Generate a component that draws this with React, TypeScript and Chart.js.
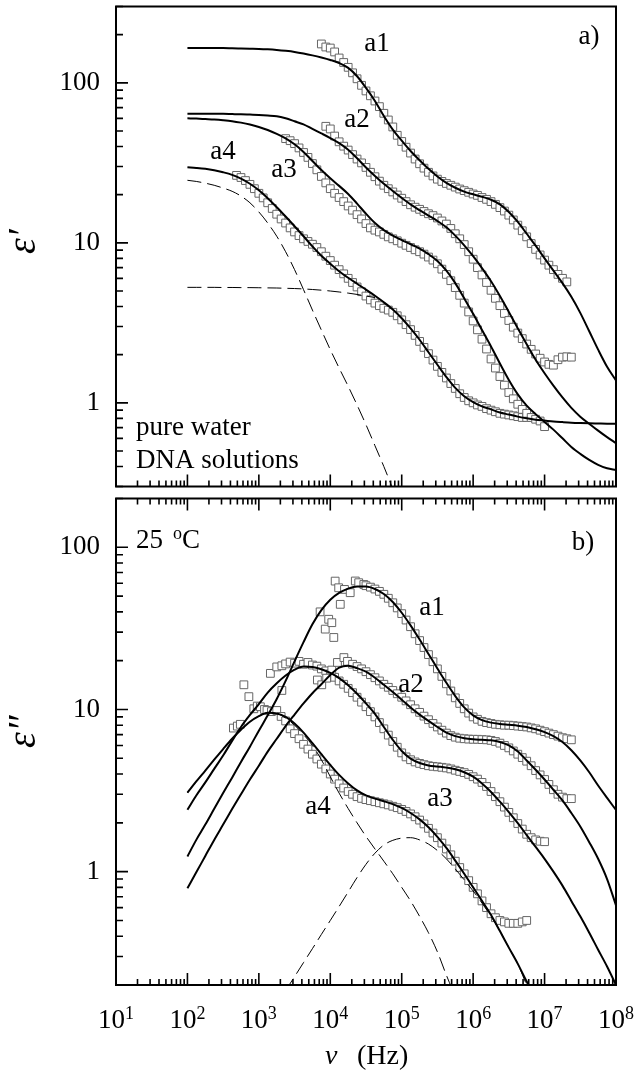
import { useEffect, useRef } from "react"
import { Chart, registerables } from "chart.js"

Chart.register(...registerables)

const SERIF = '"Liberation Serif", "DejaVu Serif", serif'

// measurement frequencies (Hz), 16 per decade, index 0 = 100 Hz
const freqGrid = [
  100, 115, 133, 154, 178, 205, 237, 274, 316, 365, 422, 487, 562, 649, 750, 866,
  1e3, 1.15e3, 1.33e3, 1.54e3, 1.78e3, 2.05e3, 2.37e3, 2.74e3, 3.16e3, 3.65e3, 4.22e3, 4.87e3, 5.62e3, 6.49e3, 7.5e3, 8.66e3,
  1e4, 1.15e4, 1.33e4, 1.54e4, 1.78e4, 2.05e4, 2.37e4, 2.74e4, 3.16e4, 3.65e4, 4.22e4, 4.87e4, 5.62e4, 6.49e4, 7.5e4, 8.66e4,
  1e5, 1.15e5, 1.33e5, 1.54e5, 1.78e5, 2.05e5, 2.37e5, 2.74e5, 3.16e5, 3.65e5, 4.22e5, 4.87e5, 5.62e5, 6.49e5, 7.5e5, 8.66e5,
  1e6, 1.15e6, 1.33e6, 1.54e6, 1.78e6, 2.05e6, 2.37e6, 2.74e6, 3.16e6, 3.65e6, 4.22e6, 4.87e6, 5.62e6, 6.49e6, 7.5e6, 8.66e6,
  1e7, 1.15e7, 1.33e7, 1.54e7, 1.78e7, 2.05e7, 2.37e7, 2.74e7, 3.16e7, 3.65e7, 4.22e7, 4.87e7, 5.62e7, 6.49e7, 7.5e7, 8.66e7,
  1e8,
]

// frequencies at which the fitted curves are read (Hz), 8 per decade
const fitGrid = [
  100, 133, 178, 237, 316, 422, 562, 750,
  1e3, 1.33e3, 1.78e3, 2.37e3, 3.16e3, 4.22e3, 5.62e3, 7.5e3,
  1e4, 1.33e4, 1.78e4, 2.37e4, 3.16e4, 4.22e4, 5.62e4, 7.5e4,
  1e5, 1.33e5, 1.78e5, 2.37e5, 3.16e5, 4.22e5, 5.62e5, 7.5e5,
  1e6, 1.33e6, 1.78e6, 2.37e6, 3.16e6, 4.22e6, 5.62e6, 7.5e6,
  1e7, 1.33e7, 1.78e7, 2.37e7, 3.16e7, 4.22e7, 5.62e7, 7.5e7,
  1e8,
]

// ---- panel a) eps' : measured points (start index in freqGrid + values)
const realA1Start = 30
const realA1 = [175, 167.5, 165, 156, 143, 134, 125, 115.5, 106, 96.5, 89, 83, 77, 71, 64.5, 58.6, 53, 47, 43, 39.6, 36.4, 33.4, 31.2, 29.3, 27.6, 26.2, 25, 24.2, 23.5, 22.9, 22.3, 21.7, 21.2, 20.7, 20.2, 19.8, 19.2, 18.7, 18.1, 17.4, 16.6, 15.8, 14.9, 13.9, 12.9, 11.9, 10.9, 9.9, 9.1, 8.4, 7.8, 7.25, 6.8, 6.35, 6.0, 5.7]
const realA2Start = 31
const realA2 = [53.5, 51.5, 46.5, 42.8, 40.2, 38, 35.6, 33.4, 31.6, 29.6, 27.6, 25.9, 24.3, 22.9, 21.8, 20.8, 19.9, 19, 18.1, 17.3, 16.7, 16.2, 15.7, 15.2, 14.8, 14.3, 13.7, 13.1, 12.3, 11.4, 10.6, 9.75, 8.8, 7.9, 7.0, 6.3, 5.65, 5.05, 4.5, 4.05, 3.62, 3.27, 2.97, 2.73, 2.52, 2.33, 2.16, 2.02, 1.9, 1.8, 1.74, 1.72, 1.86, 1.93, 1.94, 1.93]
const realA3Start = 22
const realA3 = [44.8, 43.5, 41.7, 39.2, 36.7, 34.2, 31.3, 28.6, 26, 23.7, 21.8, 20.4, 19.2, 18.1, 17, 16, 15, 14.1, 13.2, 12.4, 12, 11.7, 11.3, 10.9, 10.6, 10.3, 9.95, 9.65, 9.35, 9.05, 8.8, 8.5, 8.15, 7.8, 7.4, 6.85, 6.35, 5.8, 5.25, 4.7, 4.2, 3.7, 3.25, 2.86, 2.5, 2.17, 1.88, 1.65, 1.46, 1.29, 1.16, 1.06, 0.98, 0.91, 0.86, 0.81, 0.79, 0.77, 0.71]
const realA4Start = 11
const realA4 = [26.4, 25.6, 24.5, 23.2, 21.8, 20.4, 19.1, 17.8, 16.4, 15.1, 14.1, 13.3, 12.4, 11.7, 11.1, 10.6, 10.2, 9.8, 9.35, 8.8, 8.25, 7.75, 7.25, 6.8, 6.4, 6.0, 5.65, 5.3, 4.95, 4.65, 4.4, 4.2, 4.05, 3.9, 3.8, 3.68, 3.5, 3.3, 3.08, 2.87, 2.64, 2.42, 2.22, 2.03, 1.85, 1.69, 1.55, 1.43, 1.32, 1.23, 1.14, 1.08, 1.03, 1.0, 0.97, 0.95, 0.92, 0.9, 0.88, 0.86, 0.85, 0.84, 0.83, 0.82, 0.81, 0.81]

// ---- panel a) eps' : fitted curves on fitGrid (start index + values)
const fitRealA1 = [165, 165, 165, 165, 165, 164.5, 164, 163.5, 163, 162, 160.5, 158.5, 156, 152.5, 148.5, 144, 139, 133, 124, 110, 93, 77, 62, 51, 43.5, 37.5, 32.8, 29, 26, 23.7, 22.1, 20.9, 20.1, 19.4, 18.6, 17.4, 15.6, 13.5, 11.4, 9.6, 8.0, 6.7, 5.6, 4.6, 3.65, 2.8, 2.15, 1.68, 1.38]
const fitRealA2 = [64, 64, 64, 64, 64, 63.8, 63.6, 63.3, 63, 62.5, 61.8, 60, 57.5, 55, 51.5, 48.3, 45.2, 42, 38.2, 33.8, 29.6, 26.2, 23.4, 21.1, 19.1, 17.4, 16, 14.8, 13.7, 12.5, 11.1, 9.65, 8.25, 6.95, 5.75, 4.65, 3.7, 2.92, 2.32, 1.86, 1.53, 1.28, 1.08, 0.93, 0.82, 0.74, 0.67, 0.61, 0.56]
const fitRealA3 = [60, 59.8, 59.4, 59, 58.4, 57.6, 56.4, 54.9, 53, 50.7, 48, 45, 41.3, 37, 32.5, 28.5, 25.3, 22.7, 20.2, 17.6, 15.2, 13.3, 12, 11.1, 10.4, 9.8, 9.2, 8.5, 7.7, 6.7, 5.6, 4.5, 3.6, 2.85, 2.25, 1.76, 1.39, 1.13, 0.96, 0.85, 0.76, 0.68, 0.6, 0.53, 0.48, 0.44, 0.41, 0.39, 0.38]
const fitRealA4 = [29.7, 29.4, 29, 28.4, 27.6, 26.6, 25.2, 23.4, 21.3, 19, 16.7, 14.6, 12.7, 11, 9.5, 8.3, 7.4, 6.65, 6.05, 5.55, 5.1, 4.67, 4.25, 3.83, 3.38, 2.92, 2.48, 2.07, 1.73, 1.45, 1.24, 1.1, 1.01, 0.95, 0.91, 0.87, 0.845, 0.82, 0.8, 0.785, 0.775, 0.765, 0.758, 0.752, 0.748, 0.745, 0.743, 0.741, 0.74]
// a4 components (dashed)
const compReal1 = [24.6, 24.2, 23.6, 22.9, 22, 21, 19.6, 17.8, 15.6, 13.3, 11, 8.8, 6.8, 5.1, 3.8, 2.85, 2.15, 1.65, 1.27, 0.97, 0.73, 0.54, 0.4, 0.29, 0.21]
const compReal2 = [5.27, 5.27, 5.27, 5.27, 5.26, 5.26, 5.25, 5.25, 5.24, 5.23, 5.22, 5.2, 5.18, 5.15, 5.11, 5.06, 5.0, 4.93, 4.85, 4.76, 4.65, 4.55]

// ---- panel b) eps'' : measured points (scattered start + grid part)
const lossA1EarlyF = [7.2e3, 8.5e3, 9.5e3, 1.05e4, 1.12e4, 1.17e4, 1.31e4, 1.38e4, 1.58e4, 1.9e4, 2.24e4, 2.5e4, 2.95e4]
const lossA1Early = [40.0, 31.3, 36.0, 34.3, 27.8, 61.9, 56.3, 44.5, 55, 52.5, 62, 60.5, 59]
const lossA1Start = 40
const lossA1 = [58, 56.8, 55.3, 53.5, 51.3, 48.5, 45.5, 42.3, 39, 35.6, 32.4, 29.3, 26.6, 24.1, 21.8, 19.7, 17.8, 16, 14.4, 13, 11.8, 10.9, 10.1, 9.5, 9.0, 8.7, 8.45, 8.3, 8.2, 8.1, 8.05, 8.0, 8.0, 7.95, 7.9, 7.85, 7.8, 7.7, 7.6, 7.45, 7.3, 7.15, 7.0, 6.85, 6.7, 6.6, 6.5]
const lossA2EarlyF = [2.1e3, 6.6e3, 7.6e3, 8.9e3, 1.05e4, 1.26e4, 1.55e4, 1.74e4]
const lossA2Early = [13.1, 15.2, 14.2, 15.6, 17.5, 19.5, 20.9, 19.8]
const lossA2Start = 37
const lossA2 = [19.0, 18.4, 17.8, 17.1, 16.4, 15.7, 15.0, 14.3, 13.7, 13.1, 12.5, 11.9, 11.3, 10.7, 10.1, 9.6, 9.1, 8.65, 8.2, 7.8, 7.45, 7.15, 6.9, 6.75, 6.65, 6.6, 6.57, 6.55, 6.55, 6.52, 6.5, 6.45, 6.35, 6.2, 6.0, 5.8, 5.55, 5.3, 5.05, 4.8, 4.5, 4.2, 3.95, 3.7, 3.45, 3.2, 3.0, 2.88, 2.82, 2.82]
const lossA3EarlyF = [1.45e3, 1.78e3, 2.1e3]
const lossA3Early = [16.7, 18.3, 18.6]
const lossA3Start = 22
const lossA3 = [19.1, 19.6, 19.3, 19.8, 19.0, 19.5, 18.8, 18.5, 17.8, 17.3, 16.6, 15.8, 15.0, 14.3, 13.5, 12.7, 11.9, 11.1, 10.4, 9.7, 9.0, 8.3, 7.6, 6.95, 6.35, 5.85, 5.4, 5.1, 4.9, 4.75, 4.65, 4.57, 4.5, 4.46, 4.43, 4.4, 4.36, 4.3, 4.22, 4.15, 4.08, 3.98, 3.85, 3.72, 3.55, 3.35, 3.12, 2.9, 2.7, 2.5, 2.32, 2.15, 1.98, 1.83, 1.7, 1.62, 1.57, 1.54, 1.53]
const lossA4EarlyF = [440, 500, 550, 617, 725, 850, 950, 1.05e3, 1.2e3, 1.3e3, 1.5e3, 1.78e3, 2.05e3]
const lossA4Early = [7.68, 7.9, 8.1, 14.2, 12.0, 10.1, 10.5, 10.4, 10.0, 9.86, 9.7, 9.86, 9.06]
const lossA4Start = 22
const lossA4 = [8.5, 7.6, 7.1, 6.6, 6.1, 5.7, 5.3, 4.95, 4.6, 4.3, 4.0, 3.72, 3.48, 3.28, 3.12, 3.0, 2.9, 2.83, 2.78, 2.74, 2.7, 2.66, 2.62, 2.58, 2.53, 2.48, 2.42, 2.35, 2.27, 2.18, 2.08, 1.97, 1.85, 1.73, 1.62, 1.5, 1.38, 1.27, 1.16, 1.06, 0.97, 0.88, 0.8, 0.73, 0.66, 0.6, 0.55, 0.52, 0.5, 0.49, 0.48, 0.48, 0.48, 0.49, 0.5]

// ---- panel b) eps'' : fitted curves on fitGrid
const fitLossA1 = [1.24, 1.57, 1.95, 2.44, 3.05, 3.8, 4.75, 5.9, 7.4, 9.2, 11.6, 15.0, 19.8, 26, 33.5, 41, 47.5, 52.3, 55.6, 57.3, 57.3, 55.3, 51.5, 46, 39.5, 33, 27, 22, 17.9, 14.6, 12.1, 10.3, 9.2, 8.6, 8.3, 8.15, 8.05, 7.95, 7.8, 7.55, 7.25, 6.85, 6.3, 5.6, 4.85, 4.1, 3.4, 2.85, 2.4]
const fitLossA2 = [0.79, 0.99, 1.25, 1.57, 1.95, 2.43, 3.0, 3.7, 4.5, 5.5, 6.6, 7.9, 9.3, 10.9, 12.6, 14.3, 16.3, 18.1, 18.6, 18.0, 17.1, 15.7, 14.2, 12.8, 11.5, 10.3, 9.3, 8.5, 7.8, 7.2, 6.85, 6.65, 6.55, 6.5, 6.45, 6.3, 6.0, 5.5, 4.85, 4.25, 3.7, 3.2, 2.75, 2.3, 1.9, 1.52, 1.2, 0.9, 0.62]
const fitLossA3 = [2.41, 2.95, 3.55, 4.3, 5.2, 6.4, 7.8, 9.25, 10.8, 12.7, 14.5, 16.2, 17.6, 18.4, 18.3, 17.7, 16.8, 15.6, 14.1, 12.5, 10.9, 9.4, 7.8, 6.5, 5.55, 4.98, 4.68, 4.52, 4.45, 4.38, 4.28, 4.1, 3.85, 3.5, 3.1, 2.7, 2.33, 1.99, 1.68, 1.42, 1.2, 1.0, 0.82, 0.66, 0.53, 0.42, 0.33, 0.26, 0.2]
const fitLossA4 = [3.07, 3.6, 4.2, 4.9, 5.7, 6.6, 7.5, 8.4, 9.1, 9.55, 9.45, 9.0, 8.2, 7.2, 6.2, 5.3, 4.55, 3.95, 3.5, 3.17, 2.95, 2.82, 2.72, 2.61, 2.47, 2.3, 2.1, 1.88, 1.64, 1.4, 1.17, 0.97, 0.8, 0.66, 0.54, 0.43, 0.34, 0.27, 0.21, 0.165]
// a4 components (dashed)
const compLoss1 = [3.07, 3.6, 4.2, 4.9, 5.7, 6.6, 7.5, 8.4, 9.1, 9.55, 9.45, 8.85, 8.0, 7.0, 6.0, 4.9, 3.85, 3.05, 2.45, 2.0, 1.65, 1.38, 1.16, 0.97, 0.8, 0.66, 0.53, 0.42, 0.32, 0.23, 0.17]
const compLoss2Start = 11
const compLoss2 = [0.185, 0.225, 0.275, 0.335, 0.41, 0.5, 0.61, 0.75, 0.92, 1.11, 1.3, 1.46, 1.56, 1.61, 1.62, 1.57, 1.48, 1.35, 1.2, 1.04, 0.89, 0.76, 0.64, 0.53, 0.43, 0.34, 0.27, 0.2, 0.155]

// axes
const xTickExponents = [1, 2, 3, 4, 5, 6, 7, 8]
const yTickLabels = [1, 10, 100]
const tickDecades = [0.1, 1, 10, 100, 1e3, 1e4, 1e5, 1e6, 1e7, 1e8]
const tickSteps = [1, 2, 3, 4, 5, 6, 7, 8, 9]

type Pt = { x: number; y: number }
const pairs = (f: number[], v: number[]): Pt[] => f.map((x, i) => ({ x, y: v[i] }))
const onGrid = (start: number, v: number[]): Pt[] => v.map((y, i) => ({ x: freqGrid[start + i], y }))
const onFit = (start: number, v: number[]): Pt[] => v.map((y, i) => ({ x: fitGrid[start + i], y }))

const fitLine = (data: Pt[]) => ({
  data,
  showLine: true,
  borderColor: "#000",
  borderWidth: 2,
  pointRadius: 0,
  cubicInterpolationMode: "monotone" as const,
  clip: 0,
})
const dashLine = (data: Pt[]) => ({ ...fitLine(data), borderWidth: 1, borderDash: [14, 6] })
const squares = (data: Pt[]) => ({
  data,
  showLine: false,
  pointStyle: "rect" as const,
  pointRadius: 5.5,
  borderWidth: 1,
  borderColor: "#666",
  backgroundColor: "#fff",
})

function text(ctx: CanvasRenderingContext2D, s: string, x: number, y: number, size = 27, align: CanvasTextAlign = "center", italic = false) {
  ctx.font = `${italic ? "italic " : ""}${size}px ${SERIF}`
  ctx.textAlign = align
  ctx.textBaseline = "alphabetic"
  ctx.fillStyle = "#000"
  ctx.fillText(s, x, y)
}

function yTitle(ctx: CanvasRenderingContext2D, primes: string, cy: number) {
  const size = 40
  ctx.save()
  ctx.translate(26, cy)
  ctx.rotate(-Math.PI / 2)
  ctx.font = `italic ${size}px ${SERIF}`
  ctx.textAlign = "left"
  ctx.textBaseline = "alphabetic"
  ctx.fillStyle = "#000"
  const w = ctx.measureText("ε").width
  ctx.fillText("ε" + primes, -w / 2, 0.23 * size)
  ctx.restore()
}

function drawFrame(chart: Chart, topTicks: boolean) {
  const { ctx, chartArea: a } = chart
  const xs = chart.scales.x
  const ys = chart.scales.y
  ctx.save()
  ctx.strokeStyle = "#000"
  ctx.lineWidth = 1.6
  ctx.beginPath()
  for (const d of tickDecades) {
    for (const s of tickSteps) {
      const v = d * s
      if (v >= ys.min * 0.999 && v <= ys.max * 1.001) {
        const py = ys.getPixelForValue(v)
        ctx.moveTo(a.left, py)
        ctx.lineTo(a.left + (s === 1 ? 12 : 7), py)
      }
      if (v >= xs.min * 0.999 && v <= xs.max * 1.001) {
        const px = xs.getPixelForValue(v)
        const len = s === 1 ? 12 : 6
        ctx.moveTo(px, a.bottom)
        ctx.lineTo(px, a.bottom - len)
        if (topTicks) {
          ctx.moveTo(px, a.top)
          ctx.lineTo(px, a.top + len)
        }
      }
    }
  }
  ctx.stroke()
  ctx.lineWidth = 2
  ctx.strokeRect(a.left, a.top, a.right - a.left, a.bottom - a.top)
  ctx.restore()
}

function panelOptions(yMin: number, yMax: number, padTop: number, xAxisHeight: number) {
  return {
    animation: false as const,
    responsive: false,
    events: [],
    layout: { padding: { left: 0, right: 18, top: padTop, bottom: 0 } },
    plugins: { legend: { display: false }, tooltip: { enabled: false } },
    scales: {
      x: {
        type: "logarithmic" as const,
        min: 10,
        max: 1e8,
        ticks: { display: false },
        grid: { display: false, drawTicks: false },
        border: { display: false },
        afterFit: (s: any) => {
          s.height = xAxisHeight
          s.paddingLeft = 0
          s.paddingRight = 0
        },
      },
      y: {
        type: "logarithmic" as const,
        min: yMin,
        max: yMax,
        grid: { display: false, drawTicks: false },
        border: { display: false },
        ticks: {
          autoSkip: false,
          padding: 16,
          color: "#000",
          font: { family: SERIF, size: 27 },
          callback: (v: any) => {
            const t = yTickLabels.find((l) => Math.abs(Number(v) / l - 1) < 1e-6)
            return t === undefined ? "" : String(t)
          },
        },
        afterFit: (s: any) => {
          s.width = 116
          s.paddingTop = 0
          s.paddingBottom = 0
        },
      },
    },
  }
}

export default function App() {
  const topRef = useRef<HTMLCanvasElement>(null)
  const botRef = useRef<HTMLCanvasElement>(null)

  useEffect(() => {
    if (!topRef.current || !botRef.current) return

    const topDecor = {
      id: "topDecor",
      afterDraw(chart: Chart) {
        const ctx = chart.ctx
        drawFrame(chart, false)
        text(ctx, "a1", 377, 51)
        text(ctx, "a2", 357, 127)
        text(ctx, "a3", 284, 177)
        text(ctx, "a4", 223, 159)
        text(ctx, "a)", 589, 44)
        text(ctx, "pure water", 136, 435, 27, "left")
        text(ctx, "DNA solutions", 136, 468, 27, "left")
        yTitle(ctx, "\u2032", 246)
      },
    }

    const botDecor = {
      id: "botDecor",
      afterDraw(chart: Chart) {
        const ctx = chart.ctx
        drawFrame(chart, true)
        text(ctx, "25", 136, 56, 27, "left")
        text(ctx, "o", 173, 47, 18, "left")
        text(ctx, "C", 182, 56, 27, "left")
        text(ctx, "b)", 583, 58)
        text(ctx, "a1", 432, 123)
        text(ctx, "a2", 411, 200)
        text(ctx, "a3", 440, 314)
        text(ctx, "a4", 318, 322)
        const xs = chart.scales.x
        for (const e of xTickExponents) {
          const px = xs.getPixelForValue(10 ** e)
          ctx.font = `27px ${SERIF}`
          const w1 = ctx.measureText("10").width
          ctx.font = `18px ${SERIF}`
          const w2 = ctx.measureText(String(e)).width
          const x0 = px - (w1 + w2) / 2
          text(ctx, "10", x0, 536, 27, "left")
          text(ctx, String(e), x0 + w1, 527, 18, "left")
        }
        text(ctx, "\u03bd", 325, 572, 28, "left", true)
        text(ctx, "(Hz)", 357, 572, 28, "left")
        yTitle(ctx, "\u2033", 248)
      },
    }

    const top = new Chart(topRef.current, {
      type: "scatter",
      data: {
        datasets: [
          fitLine(onFit(0, fitRealA1)),
          fitLine(onFit(0, fitRealA2)),
          fitLine(onFit(0, fitRealA3)),
          fitLine(onFit(0, fitRealA4)),
          dashLine(onFit(0, compReal1)),
          dashLine(onFit(0, compReal2)),
          squares(onGrid(realA1Start, realA1)),
          squares(onGrid(realA2Start, realA2)),
          squares(onGrid(realA3Start, realA3)),
          squares(onGrid(realA4Start, realA4)),
        ],
      },
      options: panelOptions(0.3, 300, 1, 3) as any,
      plugins: [topDecor],
    } as any)

    const bottom = new Chart(botRef.current, {
      type: "scatter",
      data: {
        datasets: [
          fitLine(onFit(0, fitLossA1)),
          fitLine(onFit(0, fitLossA2)),
          fitLine(onFit(0, fitLossA3)),
          fitLine(onFit(0, fitLossA4)),
          dashLine(onFit(0, compLoss1)),
          dashLine(onFit(compLoss2Start, compLoss2)),
          squares([...pairs(lossA1EarlyF, lossA1Early), ...onGrid(lossA1Start, lossA1)]),
          squares([...pairs(lossA2EarlyF, lossA2Early), ...onGrid(lossA2Start, lossA2)]),
          squares([...pairs(lossA3EarlyF, lossA3Early), ...onGrid(lossA3Start, lossA3)]),
          squares([...pairs(lossA4EarlyF, lossA4Early), ...onGrid(lossA4Start, lossA4)]),
        ],
      },
      options: panelOptions(0.2, 200, 5, 92) as any,
      plugins: [botDecor],
    } as any)

    return () => {
      top.destroy()
      bottom.destroy()
    }
  }, [])

  return (
    <div style={{ position: "absolute", left: 0, top: 0, width: 634, height: 1077, background: "#fff" }}>
      <canvas ref={topRef} width={634} height={493} style={{ position: "absolute", left: 0, top: 0 }} />
      <canvas ref={botRef} width={634} height={585} style={{ position: "absolute", left: 0, top: 492 }} />
    </div>
  )
}
